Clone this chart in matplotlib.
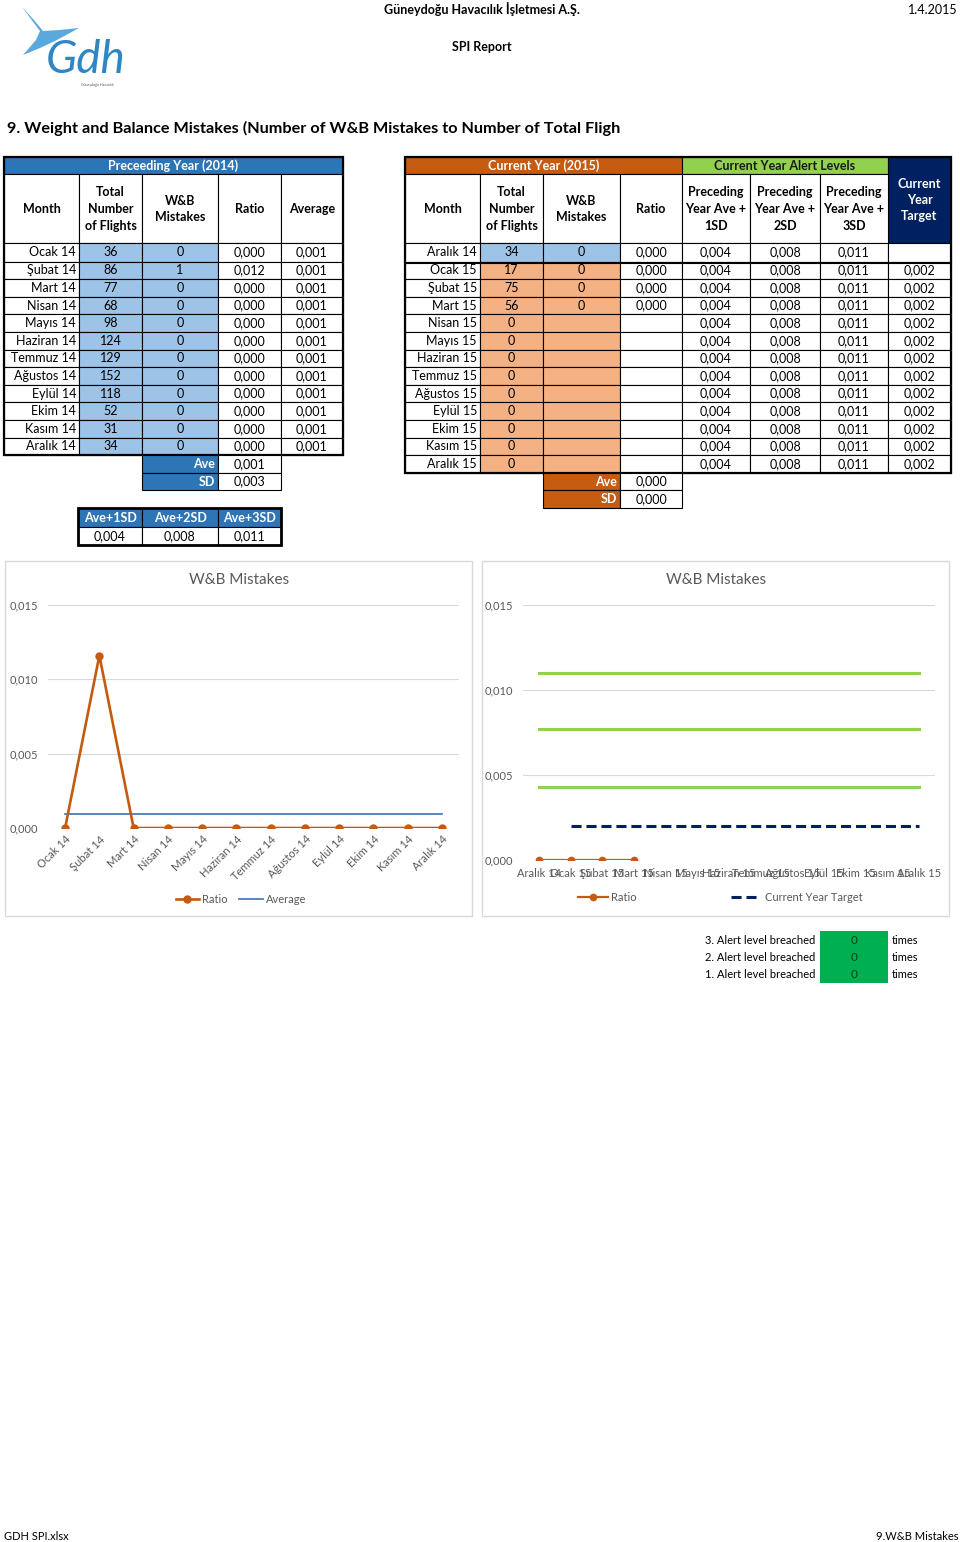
import matplotlib
matplotlib.use("Agg")
import matplotlib.pyplot as plt
from matplotlib.patches import Rectangle, Polygon
from matplotlib.ticker import FuncFormatter

plt.rcParams['font.family'] = ['Lato', 'DejaVu Sans']

months_2014 = ["Ocak 14", "Şubat 14", "Mart 14", "Nisan 14", "Mayıs 14", "Haziran 14",
               "Temmuz 14", "Ağustos 14", "Eylül 14", "Ekim 14", "Kasım 14", "Aralık 14"]
flights_2014 = [36, 86, 77, 68, 98, 124, 129, 152, 118, 52, 31, 34]
mistakes_2014 = [0, 1, 0, 0, 0, 0, 0, 0, 0, 0, 0, 0]
ratio_2014 = [0.0, 0.0116, 0.0, 0.0, 0.0, 0.0, 0.0, 0.0, 0.0, 0.0, 0.0, 0.0]
average_2014 = [0.00097] * 12
ave_2014 = 0.00097
sd_2014 = 0.0034
alert_levels = [0.0043, 0.0077, 0.0110]   # Ave+1SD, Ave+2SD, Ave+3SD
alert_labels = ["Ave+1SD", "Ave+2SD", "Ave+3SD"]

months_2015 = ["Aralık 14", "Ocak 15", "Şubat 15", "Mart 15", "Nisan 15", "Mayıs 15",
               "Haziran 15", "Temmuz 15", "Ağustos 15", "Eylül 15", "Ekim 15", "Kasım 15",
               "Aralık 15"]
flights_2015 = [34, 17, 75, 56, 0, 0, 0, 0, 0, 0, 0, 0, 0]
mistakes_2015 = [0, 0, 0, 0, None, None, None, None, None, None, None, None, None]
ratio_2015 = [0.0, 0.0, 0.0, 0.0, None, None, None, None, None, None, None, None, None]
target_2015 = [None] + [0.002] * 12
ave_2015 = 0.0
sd_2015 = 0.0
breach_labels = ["3. Alert level breached", "2. Alert level breached", "1. Alert level breached"]
breach_counts = [0, 0, 0]

# ---- colours ----
BLUE = '#2E75B6'
LBLUE = '#9DC3E6'
ORANGE = '#C55A11'
LORANGE = '#F4B183'
GREEN = '#92D050'
NAVY = '#002060'
ALERT = '#00B050'
GRAY = '#595959'

W, H = 960, 1542
fig = plt.figure(figsize=(9.6, 15.42), dpi=100)
bg = fig.add_axes([0, 0, 1, 1])
bg.set_xlim(0, W)
bg.set_ylim(H, 0)
bg.axis('off')


def fmt(v):
    return f"{v:.3f}".replace('.', ',')


def cell(x0, x1, y0, y1, fc='white', lw=0.8, ec='black'):
    bg.add_patch(Rectangle((x0, y0), x1 - x0, y1 - y0, facecolor=fc, edgecolor=ec, lw=lw))


def frame(x0, x1, y0, y1, lw=1.6, ec='black'):
    bg.add_patch(Rectangle((x0, y0), x1 - x0, y1 - y0, fill=False, edgecolor=ec, lw=lw))


def txt(x, y, s, ha='center', size=9, **kw):
    bg.text(x, y, s, ha=ha, va='center', fontsize=size, **kw)


# ---- page header (logo drawn roughly) ----
bg.add_patch(Polygon([(22, 7), (34, 20), (43, 31), (60, 30), (79, 28), (68, 34), (55, 41),
                      (40, 48), (23, 55), (36, 40), (40, 31)], closed=True,
                     facecolor='#5BA8DC', edgecolor='none'))
txt(86, 60, "Gdh", size=33, style='italic', color='#2F86C4')
txt(97, 85, "Güneydoğu Havacılık", size=2.5, color='#555555')
txt(482, 9, "Güneydoğu Havacılık İşletmesi A.Ş.", weight='bold')
txt(958, 10, "1.4.2015", ha='right')
txt(482, 47, "SPI Report", weight='bold')
txt(7, 128, "9. Weight and Balance Mistakes (Number of W&B Mistakes to Number of Total Fligh",
    ha='left', size=11.7, weight='bold')

# row edges shared by both tables
edges = [243] + [244 + 17.6 * i for i in range(1, 16)]

# ---- preceding year table ----
lc = [4, 79, 142, 218, 281, 343]
cell(4, 343, 157, 174, fc=BLUE)
txt(173.5, 165.5, "Preceeding Year (2014)", color='white', weight='bold')
heads_l = ["Month", "Total\nNumber\nof Flights", "W&B\nMistakes", "Ratio", "Average"]
for j, h in enumerate(heads_l):
    cell(lc[j], lc[j + 1], 174, 243)
    txt((lc[j] + lc[j + 1]) / 2, 209, h, weight='bold', linespacing=1.45)
for i in range(12):
    y0, y1 = edges[i], edges[i + 1]
    ym = (y0 + y1) / 2
    for j in range(5):
        cell(lc[j], lc[j + 1], y0, y1, fc=LBLUE if j in (1, 2) else 'white')
    txt(lc[1] - 3, ym, months_2014[i], ha='right')
    txt((lc[1] + lc[2]) / 2, ym, str(flights_2014[i]))
    txt((lc[2] + lc[3]) / 2, ym, str(mistakes_2014[i]))
    txt((lc[3] + lc[4]) / 2, ym, fmt(ratio_2014[i]))
    txt((lc[4] + lc[5]) / 2, ym, fmt(average_2014[i]))
frame(4, 343, 157, edges[12])
for k, (lab, val) in enumerate([("Ave", ave_2014), ("SD", sd_2014)]):
    y0, y1 = edges[12 + k], edges[13 + k]
    cell(lc[2], lc[3], y0, y1, fc=BLUE)
    cell(lc[3], lc[4], y0, y1)
    txt(lc[3] - 3, (y0 + y1) / 2, lab, ha='right', color='white', weight='bold')
    txt((lc[3] + lc[4]) / 2, (y0 + y1) / 2, fmt(val))

sc = [78, 142, 218, 281]
for j in range(3):
    cell(sc[j], sc[j + 1], 508, 527, fc=BLUE)
    cell(sc[j], sc[j + 1], 527, 545)
    txt((sc[j] + sc[j + 1]) / 2, 517.5, alert_labels[j], color='white', weight='bold')
    txt((sc[j] + sc[j + 1]) / 2, 536, fmt(alert_levels[j]))
frame(78, 281, 508, 545, lw=2)

# ---- current year table ----
rc = [405, 480, 543, 620, 682, 750, 820, 888, 951]
cell(405, 682, 157, 174, fc=ORANGE)
txt(543.5, 165.5, "Current Year (2015)", color='white', weight='bold')
cell(682, 888, 157, 174, fc=GREEN)
txt(785, 165.5, "Current Year Alert Levels", color='#1a1a1a', weight='bold')
cell(888, 951, 157, 243, fc=NAVY)
txt(919.5, 200, "Current\nYear\nTarget", color='white', weight='bold', linespacing=1.45)
heads_r = ["Month", "Total\nNumber\nof Flights", "W&B\nMistakes", "Ratio",
           "Preceding\nYear Ave +\n1SD", "Preceding\nYear Ave +\n2SD", "Preceding\nYear Ave +\n3SD"]
for j, h in enumerate(heads_r):
    cell(rc[j], rc[j + 1], 174, 243)
    txt((rc[j] + rc[j + 1]) / 2, 209, h, weight='bold', linespacing=1.45)
for i in range(13):
    y0, y1 = edges[i], edges[i + 1]
    ym = (y0 + y1) / 2
    for j in range(8):
        fc = 'white'
        if j in (1, 2):
            fc = LBLUE if i == 0 else LORANGE
        cell(rc[j], rc[j + 1], y0, y1, fc=fc)
    txt(rc[1] - 3, ym, months_2015[i], ha='right')
    txt((rc[1] + rc[2]) / 2, ym, str(flights_2015[i]))
    if mistakes_2015[i] is not None:
        txt((rc[2] + rc[3]) / 2, ym, str(mistakes_2015[i]))
    if ratio_2015[i] is not None:
        txt((rc[3] + rc[4]) / 2, ym, fmt(ratio_2015[i]))
    for k in range(3):
        txt((rc[4 + k] + rc[5 + k]) / 2, ym, fmt(alert_levels[k]))
    if target_2015[i] is not None:
        txt((rc[7] + rc[8]) / 2, ym, fmt(target_2015[i]))
bg.plot([405, 951], [edges[1] + 1.5, edges[1] + 1.5], color='black', lw=0.8)
frame(405, 951, 157, edges[13])
for k, (lab, val) in enumerate([("Ave", ave_2015), ("SD", sd_2015)]):
    y0, y1 = edges[13 + k], edges[14 + k]
    cell(rc[2], rc[3], y0, y1, fc=ORANGE)
    cell(rc[3], rc[4], y0, y1)
    txt(rc[3] - 3, (y0 + y1) / 2, lab, ha='right', color='white', weight='bold')
    txt((rc[3] + rc[4]) / 2, (y0 + y1) / 2, fmt(val))

# ---- chart frames and titles ----
bg.add_patch(Rectangle((5, 561), 467, 355, fill=False, edgecolor='#D9D9D9', lw=1))
bg.add_patch(Rectangle((482, 561), 467, 355, fill=False, edgecolor='#D9D9D9', lw=1))
txt(239, 580, "W&B Mistakes", size=11, color=GRAY)
txt(716, 580, "W&B Mistakes", size=11, color=GRAY)


def pix_axes(x0, x1, y0, y1):
    return fig.add_axes([x0 / W, 1 - y1 / H, (x1 - x0) / W, (y1 - y0) / H])


def style_chart(ax, n):
    ax.set_ylim(0, 0.015)
    ax.set_xlim(-0.5, n - 0.5)
    ax.set_yticks([0, 0.005, 0.010, 0.015])
    ax.yaxis.set_major_formatter(FuncFormatter(lambda v, p: fmt(v)))
    ax.grid(axis='y', color='#D9D9D9', lw=0.8)
    ax.set_axisbelow(True)
    for s in ax.spines.values():
        s.set_visible(False)
    ax.tick_params(length=0, labelsize=8, labelcolor=GRAY)
    ax.tick_params(axis='y', pad=7)
    ax.patch.set_alpha(0)


# left chart
ax1 = pix_axes(48, 459, 605, 828)
x1 = list(range(len(months_2014)))
ax1.plot(x1, ratio_2014, color=ORANGE, lw=1.9, marker='o', ms=5, label='Ratio', zorder=3)
ax1.plot(x1, average_2014, color='#4A7EBB', lw=1.3, label='Average', zorder=2)
style_chart(ax1, 12)
ax1.set_xticks(x1)
ax1.set_xticklabels(months_2014, rotation=45, ha='right', rotation_mode='anchor')
ax1.tick_params(axis='x', pad=4)
ax1.legend(loc='center', bbox_to_anchor=(241 / W, 1 - 899 / H), bbox_transform=fig.transFigure,
           ncol=2, frameon=False, fontsize=8, labelcolor=GRAY, handlelength=2.1,
           columnspacing=1.0, handletextpad=0.3)

# right chart (month labels overlap in the original as well)
ax2 = pix_axes(523, 935, 605, 860)
x2 = list(range(len(months_2015)))
for lvl in alert_levels:
    ax2.plot(x2, [lvl] * len(x2), color=GREEN, lw=2.2, label='_nolegend_')
tx = [x for x, v in zip(x2, target_2015) if v is not None]
ty = [v for v in target_2015 if v is not None]
ax2.plot(tx, ty, color=NAVY, lw=2.2, dashes=(3.3, 1.6), label='Current Year Target')
rx = [x for x, v in zip(x2, ratio_2015) if v is not None]
ry = [v for v in ratio_2015 if v is not None]
ax2.plot(rx, ry, color=ORANGE, lw=1.6, marker='o', ms=4.5, label='Ratio', zorder=3)
style_chart(ax2, 13)
ax2.set_xticks(x2)
ax2.set_xticklabels(months_2015)
ax2.tick_params(axis='x', pad=6)
h, l = ax2.get_legend_handles_labels()
ax2.legend([h[1], h[0]], [l[1], l[0]], loc='center', bbox_to_anchor=(720 / W, 1 - 897 / H),
           bbox_transform=fig.transFigure, ncol=2, frameon=False, fontsize=8, labelcolor=GRAY,
           handlelength=2.7, columnspacing=8.5, handletextpad=0.3)

# ---- alert breach box ----
bg.add_patch(Rectangle((820, 931), 68, 52, facecolor=ALERT, edgecolor='none'))
for k in range(3):
    y = 940 + k * 17.5
    txt(815, y, breach_labels[k], ha='right', size=8)
    txt(854, y, str(breach_counts[k]), size=8.5, color='#0B3D1A')
    txt(892, y, "times", ha='left', size=8)

# ---- footer ----
txt(4, 1537, "GDH SPI.xlsx", ha='left', size=8)
txt(958, 1537, "9.W&B Mistakes", ha='right', size=8)

fig.savefig("out.png", dpi=100, facecolor='white')
